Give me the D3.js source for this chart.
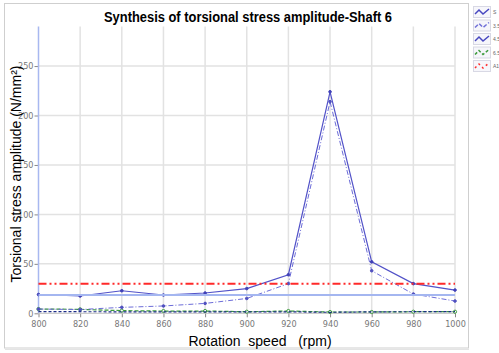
<!DOCTYPE html>
<html>
<head>
<meta charset="utf-8">
<script src="https://cdn.jsdelivr.net/npm/d3@7"></script>
<style>
  body { margin: 0; background: #fff; }
  svg { display: block; font-family: "Liberation Sans", Arial, sans-serif; }
</style>
</head>
<body>
<div id="chart"></div>
<script>
var speeds = [800, 820, 840, 860, 880, 900, 920, 940, 960, 980, 1000];
var seriesS = [19, 17.5, 22.8, 18.5, 20.5, 25, 39, 224, 52, 30, 23.5];
var series35 = [4.3, 3.8, 6, 7.4, 10, 15, 30, 214, 43, 19.5, 12.4];
var series45 = [1.6, 1.6, 1.5, 1.5, 1.5, 1.5, 1.5, 1.0, 1.5, 1.6, 1.6];
var series65 = [4.3, 4, 2.7, 2.3, 2.3, 1.6, 2.3, 1.3, 1.3, 1.6, 1.6];
var allowable = [30, 30, 30, 30, 30, 30, 30, 30, 30, 30, 30];
var limit = [18.5, 18.5, 18.5, 18.5, 18.5, 18.5, 18.5, 18.5, 18.5, 18.5, 18.5];
var yTicks = [0, 50, 100, 150, 200, 250];
var legendLabels = ["S", "3.5", "4.5", "6.5", "A1"];

var width = 499, height = 353;

var x = d3.scaleLinear().domain([800, 1000]).range([38.5, 455]);
var y = d3.scaleLinear().domain([0, 290]).range([313.3, 26.5]);

var svg = d3.select("#chart").append("svg")
  .attr("width", width)
  .attr("height", height);

// outer frame
svg.append("rect")
  .attr("x", 4.5).attr("y", 3.5)
  .attr("width", 464).attr("height", 344.5)
  .attr("fill", "none")
  .attr("stroke", "#cfcfcf")
  .attr("stroke-width", 1);
svg.append("line")
  .attr("x1", 5).attr("x2", 469).attr("y1", 349.5).attr("y2", 349.5)
  .attr("stroke", "#e4e4e4");

// grid
svg.append("g").selectAll("line").data(speeds.slice(1))
  .enter().append("line")
  .attr("x1", function(d) { return x(d); })
  .attr("x2", function(d) { return x(d); })
  .attr("y1", y(290)).attr("y2", y(0))
  .attr("stroke", "#e2e2e2")
  .attr("stroke-width", 1.5);
svg.append("g").selectAll("line").data(yTicks.slice(1))
  .enter().append("line")
  .attr("x1", x(800)).attr("x2", x(1000))
  .attr("y1", function(d) { return y(d); })
  .attr("y2", function(d) { return y(d); })
  .attr("stroke", "#e2e2e2")
  .attr("stroke-width", 1.5);

// axes
var xAxis = svg.append("g")
  .attr("transform", "translate(0," + y(0) + ")")
  .call(d3.axisBottom(x).tickValues(speeds).tickFormat(d3.format("d")).tickSize(4).tickPadding(2));
var yAxis = svg.append("g")
  .attr("transform", "translate(" + x(800) + ",0)")
  .call(d3.axisLeft(y).tickValues(yTicks).tickFormat(d3.format("d")).tickSize(4).tickPadding(1));

[xAxis, yAxis].forEach(function(a) {
  a.select(".domain").remove();
  a.selectAll(".tick line").attr("stroke", "#888");
  a.selectAll(".tick text")
    .attr("fill", "#777")
    .style("font-family", "'Liberation Sans Narrow', 'DejaVu Sans Condensed', sans-serif")
    .style("font-size", "9px");
});
xAxis.selectAll(".tick text").attr("dy", "0.85em");

svg.append("line")
  .attr("x1", x(800)).attr("x2", x(800))
  .attr("y1", y(290)).attr("y2", y(0))
  .attr("stroke", "#a8b8f0")
  .attr("stroke-width", 1.5);
svg.append("line")
  .attr("x1", x(800)).attr("x2", x(1000))
  .attr("y1", y(0)).attr("y2", y(0))
  .attr("stroke", "#c0c0c0")
  .attr("stroke-width", 1);

var line = d3.line()
  .x(function(d, i) { return x(speeds[i]); })
  .y(function(d) { return y(d); });

function drawSeries(values, color, w, dash) {
  svg.append("path")
    .datum(values)
    .attr("d", line)
    .attr("fill", "none")
    .attr("stroke", color)
    .attr("stroke-width", w)
    .attr("stroke-dasharray", dash);
}

function drawDots(values, color, r, hollow) {
  svg.append("g").selectAll("circle").data(values)
    .enter().append("circle")
    .attr("cx", function(d, i) { return x(speeds[i]); })
    .attr("cy", function(d) { return y(d); })
    .attr("r", r)
    .attr("fill", hollow ? "#fff" : color)
    .attr("stroke", color)
    .attr("stroke-width", 1);
}

drawSeries(series65, "#3c9a3c", 1.2, "4,2");
drawDots(series65, "#3c9a3c", 1.6, true);
drawSeries(series45, "#1c2c88", 1.2, "3,2");
drawSeries(series35, "#6c6cd8", 1, "5,2,1,2");
drawDots(series35, "#5050c0", 1.3, false);
drawSeries(seriesS, "#5252c8", 1.2, null);
drawDots(seriesS, "#4040b8", 1.3, false);
drawSeries(limit, "#a4b6f0", 2, null);
drawSeries(allowable, "#ff2a2a", 2, "8,3,2,3,2,3");

// titles
svg.append("text")
  .attr("x", 248).attr("y", 22)
  .attr("text-anchor", "middle")
  .attr("textLength", 288)
  .attr("lengthAdjust", "spacingAndGlyphs")
  .style("font-weight", "bold")
  .style("font-size", "14px")
  .text("Synthesis of torsional stress amplitude-Shaft 6");

svg.append("text")
  .attr("x", 260).attr("y", 346)
  .attr("text-anchor", "middle")
  .style("font-size", "14px")
  .style("white-space", "pre")
  .text("Rotation  speed   (rpm)");

svg.append("text")
  .attr("transform", "translate(21,174) rotate(-90)")
  .attr("text-anchor", "middle")
  .style("font-size", "14px")
  .text("Torsional stress amplitude (N/mm²)");

// legend
var legendColors = ["#4848c0", "#7070d8", "#4848c0", "#3c9a3c", "#ff2a2a"];
var legendDash = [null, "4,2", null, "3,2", "2,3"];
var legend = svg.append("g");
legend.selectAll("g").data(legendLabels)
  .enter().append("g")
  .each(function(d, i) {
    var g = d3.select(this);
    var cy = 12 + i * 13.5;
    g.append("rect")
      .attr("x", 473.5).attr("y", cy - 5.5)
      .attr("width", 17).attr("height", 11)
      .attr("fill", "#f6f6fb")
      .attr("stroke", "#d8d8e4");
    g.append("path")
      .attr("d", "M475," + (cy + 2) + " L479," + (cy - 2) + " L483," + (cy + 2) + " L489," + (cy - 3))
      .attr("fill", "none")
      .attr("stroke", legendColors[i])
      .attr("stroke-width", 1.5)
      .attr("stroke-dasharray", legendDash[i]);
    g.append("text")
      .attr("x", 493).attr("y", cy + 2)
      .attr("fill", "#666")
      .style("font-size", "5px")
      .text(d);
  });
</script>
</body>
</html>
